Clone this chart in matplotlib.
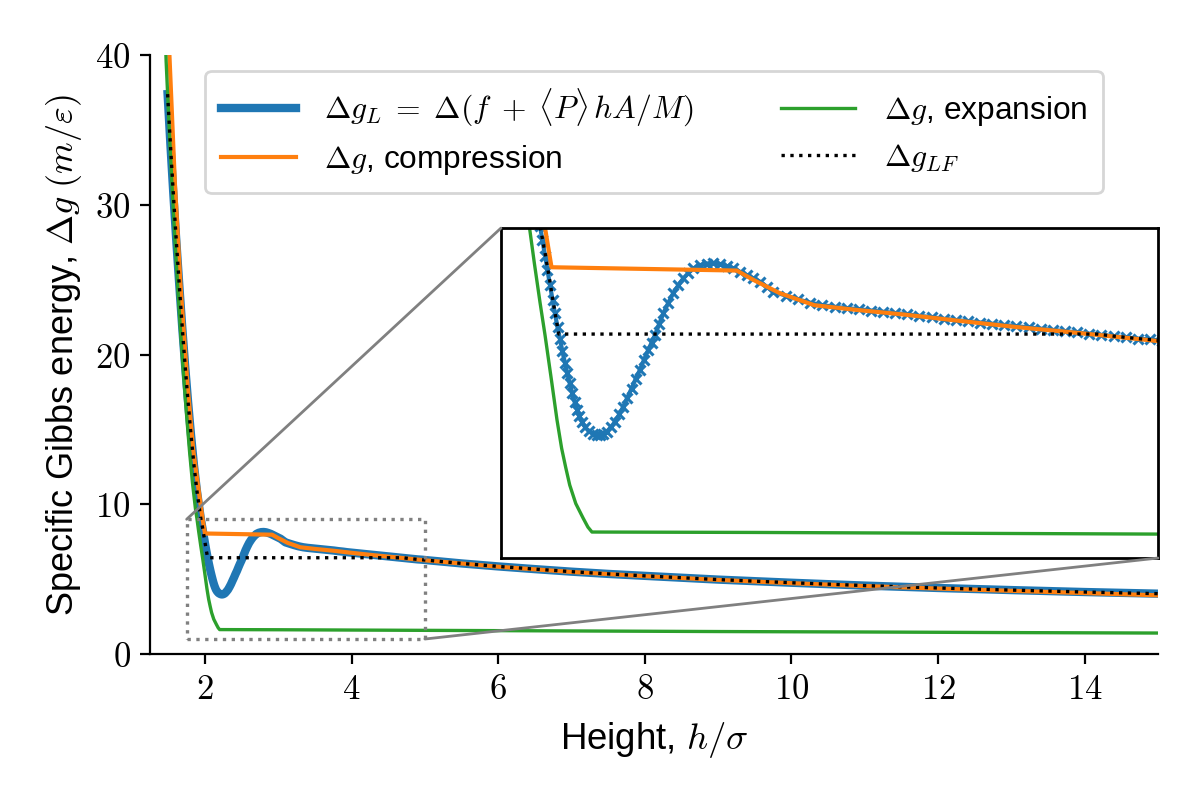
import matplotlib
matplotlib.use('Agg')
import matplotlib.pyplot as plt
from matplotlib.patches import Rectangle, ConnectionPatch
from matplotlib.ticker import FuncFormatter

plt.rcParams['font.family'] = ['Liberation Sans', 'DejaVu Sans']
plt.rcParams['mathtext.fontset'] = 'cm'

# ---------------- data ----------------
# Delta g_L (blue)
h_L = [1.49, 1.53, 1.57, 1.61, 1.65, 1.69, 1.73, 1.77, 1.81, 1.85, 1.89,
       1.943, 1.955, 1.968, 1.980, 1.992, 2.005, 2.017, 2.030, 2.042, 2.054,
       2.066, 2.078, 2.090, 2.102, 2.114, 2.126, 2.138, 2.150, 2.165, 2.185,
       2.206, 2.223, 2.240, 2.257, 2.273, 2.293, 2.314, 2.335, 2.355, 2.375,
       2.396, 2.416, 2.437, 2.457, 2.478, 2.495, 2.512, 2.533, 2.553, 2.578,
       2.602, 2.627, 2.652, 2.677, 2.701, 2.734, 2.767, 2.800, 2.833, 2.866,
       2.899, 2.932, 2.965, 2.998, 3.031, 3.064, 3.097,
       3.16, 3.22, 3.28, 3.34, 3.40, 3.46, 3.52, 3.58, 3.64, 3.70, 3.76,
       3.82, 3.88, 3.94, 4.00, 4.06, 4.12, 4.18, 4.24, 4.30, 4.36, 4.42,
       4.48, 4.54, 4.60, 4.66, 4.72, 4.78, 4.84, 4.90, 4.96, 5.02,
       5.5, 6.0, 6.5, 7.0, 7.5, 8.0, 9.0, 10.0, 11.0, 12.0, 13.0, 14.0, 15.0]
g_L = [37.4, 33.9, 30.6, 27.5, 24.6, 21.8, 19.2, 16.8, 14.6, 12.6, 10.9,
       9.05, 8.70, 8.33, 7.98, 7.63, 7.26, 6.93, 6.59, 6.30, 6.01,
       5.74, 5.48, 5.24, 5.01, 4.79, 4.60, 4.44, 4.30, 4.18, 4.07,
       4.01, 3.98, 3.98, 4.01, 4.06, 4.17, 4.30, 4.48, 4.67, 4.89,
       5.11, 5.34, 5.56, 5.80, 6.04, 6.22, 6.41, 6.68, 6.93, 7.19,
       7.42, 7.61, 7.78, 7.91, 8.02, 8.10, 8.14, 8.15, 8.13, 8.08,
       8.02, 7.94, 7.86, 7.78, 7.70, 7.58, 7.46,
       7.36, 7.27, 7.19, 7.13, 7.09, 7.06, 7.03, 7.00, 6.97, 6.94, 6.91,
       6.87, 6.84, 6.80, 6.77, 6.74, 6.71, 6.68, 6.65, 6.62, 6.59, 6.56,
       6.53, 6.50, 6.47, 6.44, 6.41, 6.38, 6.35, 6.32, 6.30, 6.27,
       6.05, 5.85, 5.67, 5.50, 5.35, 5.22, 4.97, 4.76, 4.57, 4.41, 4.27, 4.14, 4.03]

# Delta g, compression (orange)
h_comp = [1.49, 1.515, 1.59, 1.665, 1.76, 1.84, 1.968, 2.0, 2.916, 3.0, 3.13,
          3.3, 3.5, 3.75, 4.0, 4.3, 4.6, 5.0, 6.0, 7.0, 8.0, 9.0, 10.0, 11.0,
          12.0, 13.0, 14.0, 15.0]
g_comp = [43.0, 40.0, 31.4, 24.75, 18.1, 13.6, 9.0, 8.05, 7.97, 7.74, 7.42,
          7.13, 7.02, 6.90, 6.76, 6.60, 6.46, 6.26, 5.83, 5.48, 5.20, 4.95, 4.73, 4.54,
          4.37, 4.22, 4.07, 3.92]

# Delta g, expansion (green)
h_exp = [1.44, 1.47, 1.51, 1.55, 1.59, 1.63, 1.67, 1.71, 1.75, 1.79, 1.83,
         1.87, 1.89, 1.915, 1.943, 1.968, 2.0, 2.027, 2.05, 2.07, 2.09, 2.12,
         2.156, 2.18, 2.2, 3.0, 4.0, 5.0, 7.0, 9.0, 11.0, 13.0, 15.0]
g_exp = [44.0, 39.6, 35.3, 31.3, 27.7, 24.4, 21.3, 18.5, 15.9, 13.5, 11.4,
         9.7, 9.05, 8.15, 7.2, 6.4, 5.3, 4.35, 3.66, 3.2, 2.77, 2.32,
         1.97, 1.75, 1.63, 1.62, 1.60, 1.58, 1.54, 1.50, 1.47, 1.43, 1.40]

# Delta g_LF (black dotted)
h_LF = [1.49, 1.53, 1.57, 1.61, 1.65, 1.69, 1.73, 1.77, 1.81, 1.85, 1.89,
        1.943, 1.968, 1.992, 2.017, 2.036, 4.70, 4.78, 4.90, 5.02, 5.5, 6.0,
        6.5, 7.0, 7.5, 8.0, 9.0, 10.0, 11.0, 12.0, 13.0, 14.0, 15.0]
g_LF = [37.4, 33.9, 30.6, 27.5, 24.6, 21.8, 19.2, 16.8, 14.6, 12.6, 10.9,
        9.05, 8.40, 7.70, 6.95, 6.43, 6.43, 6.38, 6.32, 6.27, 6.05, 5.85,
        5.67, 5.50, 5.35, 5.22, 4.97, 4.76, 4.57, 4.41, 4.27, 4.14, 4.03]

labels = [r'$\Delta g_L\;=\;\Delta(f\;+\;\langle P\rangle\, hA/M)$',
          r'$\Delta g$, compression',
          r'$\Delta g$, expansion',
          r'$\Delta g_{LF}$']
x_ticks = [2, 4, 6, 8, 10, 12, 14]
y_ticks = [0, 10, 20, 30, 40]

# zoom window
zx0, zx1, zy0, zy1 = 1.75, 5.0, 1.0, 9.0

# ---------------- figure ----------------
fig = plt.figure(figsize=(6, 4), dpi=200)
ax = fig.add_axes([0.125, 0.1825, 0.84, 0.7485])

c_blue, c_orange, c_green = '#1f77b4', '#ff7f0e', '#2ca02c'

ax.plot(h_L, g_L, color=c_blue, lw=3, label=labels[0])
ax.plot(h_comp, g_comp, color=c_orange, lw=1.5, label=labels[1])
ax.plot(h_exp, g_exp, color=c_green, lw=1.2, label=labels[2])
ax.plot(h_LF, g_LF, color='k', ls=':', lw=1.2, label=labels[3])

ax.set_xlim(1.25, 15)
ax.set_ylim(0, 40)
ax.set_xticks(x_ticks)
ax.set_yticks(y_ticks)
fmt = FuncFormatter(lambda v, p: f'${v:g}$')
ax.xaxis.set_major_formatter(fmt)
ax.yaxis.set_major_formatter(fmt)
ax.tick_params(labelsize=12.5)
for s in ('top', 'right'):
    ax.spines[s].set_visible(False)

ax.set_xlabel(r'Height, $h/\sigma$', fontsize=13.2, labelpad=5)
ax.set_ylabel(r'Specific Gibbs energy, $\Delta g$ $(m/\varepsilon)$', fontsize=13)

ax.legend(loc='upper center', ncol=2, fontsize=11.4, handlelength=2.35,
          handletextpad=0.9, columnspacing=2.75, borderpad=0.5,
          labelspacing=0.45)

# ---------------- inset ----------------
axins = ax.inset_axes([0.3482, 0.1603, 0.6518, 0.551])
axins.plot(h_L, g_L, color=c_blue, lw=1.5, marker='x', ms=3.5, mew=1.1)
axins.plot(h_comp, g_comp, color=c_orange, lw=1.5)
axins.plot(h_exp, g_exp, color=c_green, lw=1.2)
axins.plot(h_LF, g_LF, color='k', ls=':', lw=1.2)
axins.set_xlim(zx0, zx1)
axins.set_ylim(zy0, zy1)
axins.set_xticks([])
axins.set_yticks([])
for s in axins.spines.values():
    s.set_linewidth(1.0)

rect = Rectangle((zx0, zy0), zx1 - zx0, zy1 - zy0, fill=False,
                 ec='0.5', ls=':', lw=1.2, zorder=4)
ax.add_patch(rect)
con1 = ConnectionPatch(xyA=(zx0, zy1), coordsA='data', axesA=ax,
                       xyB=(0, 1), coordsB='axes fraction', axesB=axins,
                       color='0.5', lw=1.0)
con2 = ConnectionPatch(xyA=(zx1, zy0), coordsA='data', axesA=ax,
                       xyB=(1, 0), coordsB='axes fraction', axesB=axins,
                       color='0.5', lw=1.0)
fig.add_artist(con1)
fig.add_artist(con2)

fig.savefig('out.png', dpi=200)
